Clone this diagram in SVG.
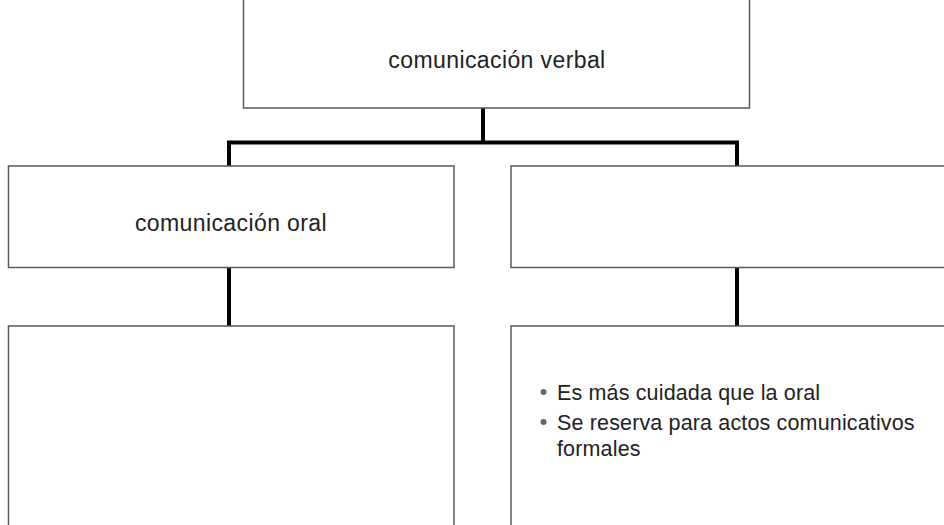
<svg xmlns="http://www.w3.org/2000/svg" width="944" height="525" viewBox="0 0 944 525">
<style>
.box{fill:#fff;stroke:#5a5a5a;stroke-width:1.5}
.conn{fill:none;stroke:#000;stroke-width:4}
.t{font-family:"Liberation Sans",Arial,sans-serif;fill:#222}
.title{font-size:23px;letter-spacing:0.4px}
.body{font-size:21.5px;letter-spacing:0.15px}
.dot{fill:#666}
</style>
<rect width="944" height="525" fill="#fff"/>
<g id="connectors">
<path class="conn" d="M483,108 V142.5 M229,166 V142.5 H737 V166"/>
<path class="conn" d="M229,267.5 V326"/>
<path class="conn" d="M737,267.5 V326"/>
</g>
<g id="verbal">
<rect class="box" x="243.5" y="-5" width="506" height="113"/>
<text class="t title" x="497" y="68" text-anchor="middle">comunicación verbal</text>
</g>
<g id="oral">
<rect class="box" x="8.5" y="166" width="445.5" height="101.5"/>
<text class="t title" x="231" y="231" text-anchor="middle">comunicación oral</text>
</g>
<g id="escrita">
<rect class="box" x="511" y="166" width="446" height="101.5"/>
</g>
<g id="oral-rasgos">
<rect class="box" x="8.5" y="326" width="445.5" height="210"/>
</g>
<g id="escrita-rasgos">
<rect class="box" x="511" y="326" width="446" height="210"/>
<circle class="dot" cx="543.5" cy="392" r="3"/>
<text class="t body" x="557" y="400">Es más cuidada que la oral</text>
<circle class="dot" cx="543.5" cy="422" r="3"/>
<text class="t body" x="557" y="430">Se reserva para actos comunicativos</text>
<text class="t body" x="557" y="456">formales</text>
</g>
</svg>
